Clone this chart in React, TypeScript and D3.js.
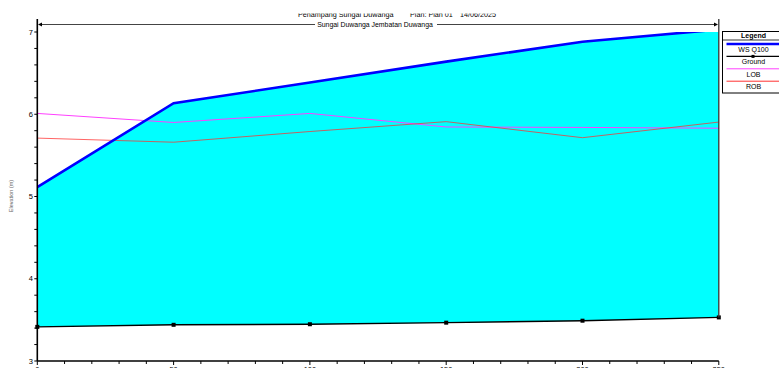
import { useEffect, useRef } from 'react'
import * as d3 from 'd3'

const stations = [0, 50, 100, 150, 200, 250]
const wsQ100 = [5.115, 6.135, 6.385, 6.64, 6.882, 7.03]
const ground = [3.415, 3.44, 3.447, 3.466, 3.49, 3.53]
const lob = [6.01, 5.9, 6.01, 5.845, 5.84, 5.83]
const rob = [5.71, 5.66, 5.79, 5.91, 5.715, 5.905]
const xTicks = [0, 50, 100, 150, 200, 250]
const yTicks = [3, 4, 5, 6, 7]
const titleParts = ['Penampang Sungai Duwanga', 'Plan: Plan 01', '14/06/2025']
const reachLabel = 'Sungai Duwanga Jembatan Duwanga'
const legendItems = [
  { name: 'WS  Q100', color: '#0000ff', width: 2.5, marker: false },
  { name: 'Ground', color: '#000000', width: 1.2, marker: true },
  { name: 'LOB', color: '#ff40ff', width: 1, marker: false },
  { name: 'ROB', color: '#ff3030', width: 1, marker: false },
]

const FONT = 'Liberation Sans, Arial, sans-serif'

export default function App() {
  const ref = useRef<SVGSVGElement>(null)

  useEffect(() => {
    const svg = d3.select(ref.current!)
    svg.selectAll('*').remove()
    const W = 779, H = 368
    svg.attr('width', W).attr('height', H)

    const x = d3.scaleLinear().domain([0, 250]).range([37.3, 718.8])
    const y = d3.scaleLinear().domain([3, 7]).range([361, 32])
    const pts = stations.map((s, i) => ({ s, ws: wsQ100[i], g: ground[i], l: lob[i], r: rob[i] }))

    const defs = svg.append('defs')
    defs.append('clipPath').attr('id', 'plot-clip').append('rect')
      .attr('x', x(0)).attr('y', y(7)).attr('width', x(250) - x(0)).attr('height', y(3) - y(7))
    defs.append('clipPath').attr('id', 'title-clip').append('rect')
      .attr('x', 0).attr('y', 13.4).attr('width', W).attr('height', 20)

    const plot = svg.append('g').attr('clip-path', 'url(#plot-clip)')

    // water fill between WS and ground
    plot.append('path').datum(pts)
      .attr('d', d3.area<typeof pts[0]>().x(d => x(d.s)).y0(d => y(d.g)).y1(d => y(d.ws)))
      .attr('fill', '#00ffff')

    const line = (key: 'ws' | 'g' | 'l' | 'r') => d3.line<typeof pts[0]>().x(d => x(d.s)).y(d => y(d[key]))

    plot.append('path').datum(pts).attr('d', line('l')).attr('fill', 'none')
      .attr('stroke', '#ff40ff').attr('stroke-width', 1)
    plot.append('path').datum(pts).attr('d', line('r')).attr('fill', 'none')
      .attr('stroke', '#ff3030').attr('stroke-width', 1).attr('stroke-opacity', 0.75)
    plot.append('path').datum(pts).attr('d', line('ws')).attr('fill', 'none')
      .attr('stroke', '#0000ff').attr('stroke-width', 2.6)

    // ground line with square markers
    svg.append('path').datum(pts).attr('d', line('g')).attr('fill', 'none')
      .attr('stroke', '#000').attr('stroke-width', 1.4)
    svg.selectAll('rect.gm').data(pts).enter().append('rect').attr('class', 'gm')
      .attr('x', d => x(d.s) - 2).attr('y', d => y(d.g) - 2).attr('width', 4).attr('height', 4)
      .attr('fill', '#000')

    // right edge of section
    svg.append('line').attr('x1', x(250)).attr('x2', x(250)).attr('y1', 19).attr('y2', y(ground[5]))
      .attr('stroke', '#333').attr('stroke-width', 1.3)

    // y axis
    const yAxisG = svg.append('g').attr('transform', `translate(${x(0)},0)`)
    yAxisG.append('line').attr('x1', 0).attr('x2', 0).attr('y1', 19).attr('y2', y(3))
      .attr('stroke', '#000').attr('stroke-width', 1.6)
    yAxisG.selectAll('line.minor').data(d3.range(3, 7.001, 0.2)).enter().append('line').attr('class', 'minor')
      .attr('x1', -3).attr('x2', 0).attr('y1', d => y(d)).attr('y2', d => y(d))
      .attr('stroke', '#000').attr('stroke-width', 1)
    yAxisG.selectAll('text').data(yTicks).enter().append('text')
      .attr('x', -4.5).attr('y', d => y(d) + 2.6).attr('text-anchor', 'end')
      .attr('font-family', FONT).attr('font-size', 7.5).attr('fill', '#000').text(d => d)

    // x axis
    const xAxisG = svg.append('g').attr('transform', `translate(0,${y(3)})`)
    xAxisG.append('line').attr('x1', x(0)).attr('x2', x(250)).attr('y1', 0).attr('y2', 0)
      .attr('stroke', '#000').attr('stroke-width', 1.6)
    xAxisG.selectAll('line.minor').data(d3.range(0, 250.001, 10)).enter().append('line').attr('class', 'minor')
      .attr('x1', d => x(d)).attr('x2', d => x(d)).attr('y1', 0).attr('y2', d => (d % 50 === 0 ? 4 : 3))
      .attr('stroke', '#000').attr('stroke-width', 1)
    xAxisG.selectAll('text').data(xTicks).enter().append('text')
      .attr('x', d => x(d)).attr('y', 11).attr('text-anchor', 'middle')
      .attr('font-family', FONT).attr('font-size', 7.5).attr('fill', '#000').text(d => d)

    // axis title
    svg.append('text').attr('transform', `translate(13,196) rotate(-90)`).attr('text-anchor', 'middle')
      .attr('font-family', FONT).attr('font-size', 5.5).attr('fill', '#666').text('Elevation (m)')

    // title (top clipped, as in reference)
    const tg = svg.append('g').attr('clip-path', 'url(#title-clip)')
    const titleX = [298, 410, 460]
    titleParts.forEach((t, i) => {
      tg.append('text').attr('x', titleX[i]).attr('y', 17.2)
        .attr('font-family', FONT).attr('font-size', 7.2).attr('fill', '#000').text(t)
    })

    // reach label with arrows
    const ay = 24.5
    svg.append('text').attr('x', 375).attr('y', 27).attr('text-anchor', 'middle')
      .attr('font-family', FONT).attr('font-size', 6.9).attr('fill', '#000').text(reachLabel)
    svg.append('line').attr('x1', 40).attr('x2', 315).attr('y1', ay).attr('y2', ay)
      .attr('stroke', '#444').attr('stroke-width', 1)
    svg.append('line').attr('x1', 437).attr('x2', 715).attr('y1', ay).attr('y2', ay)
      .attr('stroke', '#444').attr('stroke-width', 1)
    svg.append('path').attr('d', `M38,${ay} L42,${ay - 2} L42,${ay + 2} Z`).attr('fill', '#000')
    svg.append('path').attr('d', `M718,${ay} L714,${ay - 2} L714,${ay + 2} Z`).attr('fill', '#000')

    // legend
    const lg = svg.append('g').attr('transform', 'translate(722.5,31.5)')
    lg.append('rect').attr('width', 62).attr('height', 61.5).attr('fill', '#fff')
      .attr('stroke', '#000').attr('stroke-width', 1)
    lg.append('text').attr('x', 31).attr('y', 6.5).attr('text-anchor', 'middle')
      .attr('font-family', FONT).attr('font-size', 7).attr('font-weight', 'bold').text('Legend')
    lg.append('line').attr('x1', 0).attr('x2', 62).attr('y1', 8.5).attr('y2', 8.5)
      .attr('stroke', '#000').attr('stroke-width', 0.8)
    legendItems.forEach((it, i) => {
      const ly = 12.5 + i * 12.4
      lg.append('line').attr('x1', 4).attr('x2', 62).attr('y1', ly).attr('y2', ly)
        .attr('stroke', it.color).attr('stroke-width', it.width)
      if (it.marker) lg.append('rect').attr('x', 29).attr('y', ly - 1.5).attr('width', 3).attr('height', 3).attr('fill', '#000')
      lg.append('text').attr('x', 31).attr('y', ly + 8).attr('text-anchor', 'middle')
        .attr('font-family', FONT).attr('font-size', 7).attr('fill', '#000').text(it.name)
    })
  }, [])

  return <svg ref={ref} style={{ position: 'absolute', left: 0, top: 0, display: 'block' }} />
}
